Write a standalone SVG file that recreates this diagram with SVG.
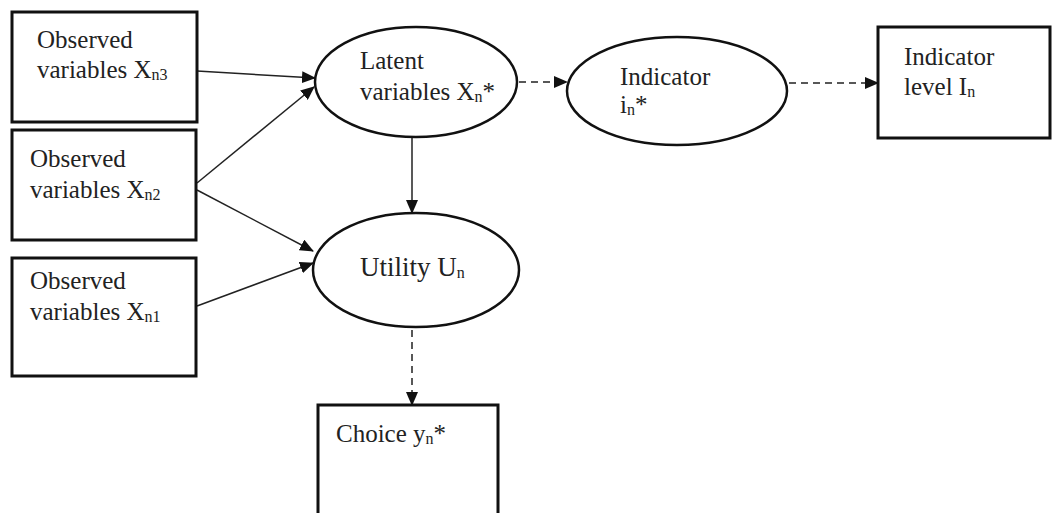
<svg xmlns="http://www.w3.org/2000/svg" width="1054" height="513" viewBox="0 0 1054 513">
<defs>
<style>
.box{fill:#fff;stroke:#111;stroke-width:3}
.ell{fill:#fff;stroke:#111;stroke-width:2.5}
.t{font-family:"Liberation Serif","Times New Roman",serif;font-size:25px;fill:#222}
.u{font-size:27px}
.s{font-size:16px}
.ln{stroke:#222;stroke-width:1.5;fill:none}
.dash{stroke-dasharray:7 5}
</style>
<marker id="ah" markerWidth="14" markerHeight="12" refX="13" refY="6" orient="auto" markerUnits="userSpaceOnUse">
<path d="M0,0 L14,6 L0,12 Z" fill="#111"/>
</marker>
</defs>
<g id="connectors">
<line class="ln" x1="197" y1="71" x2="315" y2="78" marker-end="url(#ah)"/>
<line class="ln" x1="197" y1="183" x2="314" y2="87" marker-end="url(#ah)"/>
<line class="ln" x1="197" y1="190" x2="313" y2="251" marker-end="url(#ah)"/>
<line class="ln" x1="197" y1="306" x2="313" y2="263" marker-end="url(#ah)"/>
<line class="ln" x1="412" y1="138" x2="412" y2="213" marker-end="url(#ah)"/>
<line class="ln dash" x1="519" y1="82" x2="567" y2="82" marker-end="url(#ah)"/>
<line class="ln dash" x1="789" y1="83" x2="878" y2="83" marker-end="url(#ah)"/>
<line class="ln dash" x1="412" y1="330" x2="412" y2="405" marker-end="url(#ah)"/>
</g>
<g id="obs3">
<rect class="box" x="12" y="12" width="185" height="110"/>
<text class="t" x="37" y="48">Observed</text>
<text class="t" x="37" y="78">variables X<tspan class="s" dy="2">n3</tspan></text>
</g>
<g id="obs2">
<rect class="box" x="12" y="130" width="184" height="110"/>
<text class="t" x="30" y="167">Observed</text>
<text class="t" x="30" y="198">variables X<tspan class="s" dy="2">n2</tspan></text>
</g>
<g id="obs1">
<rect class="box" x="12" y="258" width="184" height="118"/>
<text class="t" x="30" y="289">Observed</text>
<text class="t" x="30" y="320">variables X<tspan class="s" dy="2">n1</tspan></text>
</g>
<g id="latent">
<ellipse class="ell" cx="416" cy="82" rx="101" ry="55"/>
<text class="t" x="360" y="69">Latent</text>
<text class="t" x="360" y="100">variables X<tspan class="s" dy="2">n</tspan><tspan dy="-2">*</tspan></text>
</g>
<g id="indicator">
<ellipse class="ell" cx="677" cy="91" rx="110" ry="54"/>
<text class="t" x="620" y="85">Indicator</text>
<text class="t" x="620" y="113">i<tspan class="s" dy="2">n</tspan><tspan dy="-2">*</tspan></text>
</g>
<g id="level">
<rect class="box" x="878" y="27" width="172" height="111"/>
<text class="t" x="904" y="65">Indicator</text>
<text class="t" x="904" y="95">level I<tspan class="s" dy="2">n</tspan></text>
</g>
<g id="utility">
<ellipse class="ell" cx="416" cy="270" rx="103" ry="57"/>
<text class="t u" x="360" y="276">Utility U<tspan class="s" dy="2">n</tspan></text>
</g>
<g id="choice">
<rect class="box" x="318" y="405" width="180" height="120"/>
<text class="t" x="336" y="442">Choice y<tspan class="s" dy="2">n</tspan><tspan dy="-2">*</tspan></text>
</g>
</svg>
